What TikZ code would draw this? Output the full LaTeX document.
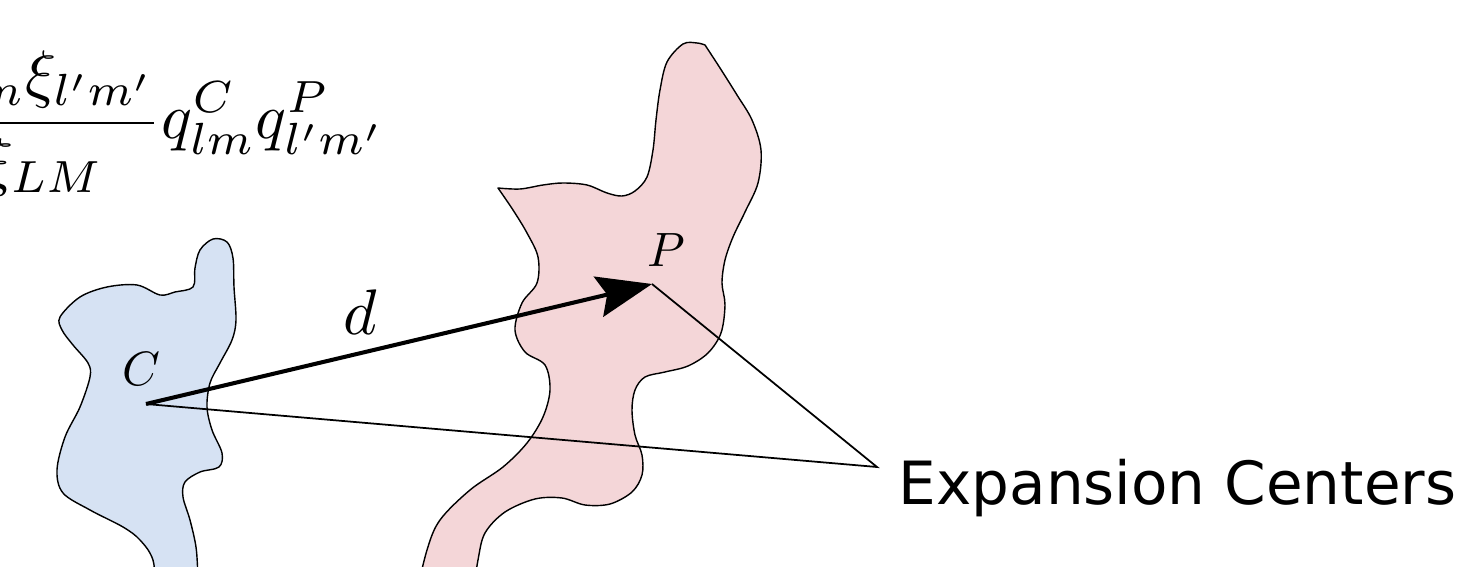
\documentclass[tikz,border=0pt]{standalone}
\usepackage{fontspec}
\newfontfamily\labelfont{DejaVu Sans}
\usetikzlibrary{arrows.meta}
\definecolor{cfill}{HTML}{D6E2F3}
\definecolor{pfill}{HTML}{F4D6D8}
\tikzset{
  blob/.style ={draw=black, line width=0.4pt, line join=round},
  cblob/.style={blob, fill=cfill},
  pblob/.style={blob, fill=pfill},
  arr/.style  ={-{Stealth[length=15.6pt, width=11.7pt, inset=2.5pt]}, line width=1.15pt},
  ln/.style   ={line width=0.5pt},
  ml/.style   ={inner sep=0pt, scale=1.37},
  bl/.style   ={inner sep=0pt, scale=1.83},
  tl/.style   ={inner sep=0pt, font=\labelfont\fontsize{16.95}{20}\selectfont},
}

\begin{document}
\begin{tikzpicture}[x=0.01cm, y=-0.01cm]
  \useasboundingbox (0,0) rectangle (1463,567);
  \clip (0,0) rectangle (1463,567);
  \draw[cblob] plot[smooth cycle, tension=0.55] coordinates {
    (160,295) (175,292) (193,287) (195,268) (200,250) (213,239) (227,242) (233,258)
    (234,287) (236,320) (232,340) (220,363) (210,383) (207,407) (212,430) (222,453)
    (219,467) (200,472) (185,482) (183,497) (190,520) (196,547) (198,575) (200,600)
    (160,600) (153,560) (140,540) (123,527) (90,510) (63,493) (57,470) (65,437)
    (80,407) (90,377) (88,363) (73,345) (62,330) (60,317) (80,297) (107,287) (137,285)};
  \draw[pblob] plot[smooth, tension=0.55] coordinates {
    (498,188) (520,189) (543,185) (563,183) (587,185) (607,193) (622,196) (635,191)
    (647,177) (653,150) (656,120) (660,90) (667,62) (683,44) (697,43) (705,45)}
    -- plot[smooth, tension=0.55] coordinates {
    (705,45) (720,68) (737,95) (752,120) (761,150) (758,183) (745,212) (733,237)
    (725,260) (722,283) (725,305) (721,333) (708,353) (688,366) (665,372) (645,377)
    (635,390) (632,410) (635,435) (642,455) (642,475) (632,492) (610,504) (585,505)
    (562,498) (535,499) (505,512) (485,533) (478,560) (472,600)}
    -- plot[smooth, tension=0.55] coordinates {
    (415,600) (427,550) (440,520) (470,490) (503,467) (527,443) (543,417) (550,390)
    (545,365) (525,352) (515,330) (522,303) (537,283) (538,257) (527,233) (513,210)
    (498,188)} -- cycle;
  \coordinate (C) at (146,404);
  \coordinate (P) at (652,284);
  \coordinate (ec) at (877,467);
  \draw[ln] (C) -- (ec) -- (P);
  \draw[arr] (C) -- (P);
  \node[ml] (clbl) at (141,369) {$C$};
  \node[ml] (plbl) at (666,250) {$P$};
  \node[bl] (dlbl) at (360,312) {$d$};
  \node[bl, anchor=base east] (frm) at (386,139)
    {$\displaystyle\frac{\xi_{lm}\xi_{l'm'}}{\xi_{LM}}q^{C}_{lm}q^{P}_{l'm'}$};
  \node[tl, anchor=base west] (ectext) at (898,504) {Expansion Centers};
\end{tikzpicture}
\end{document}
